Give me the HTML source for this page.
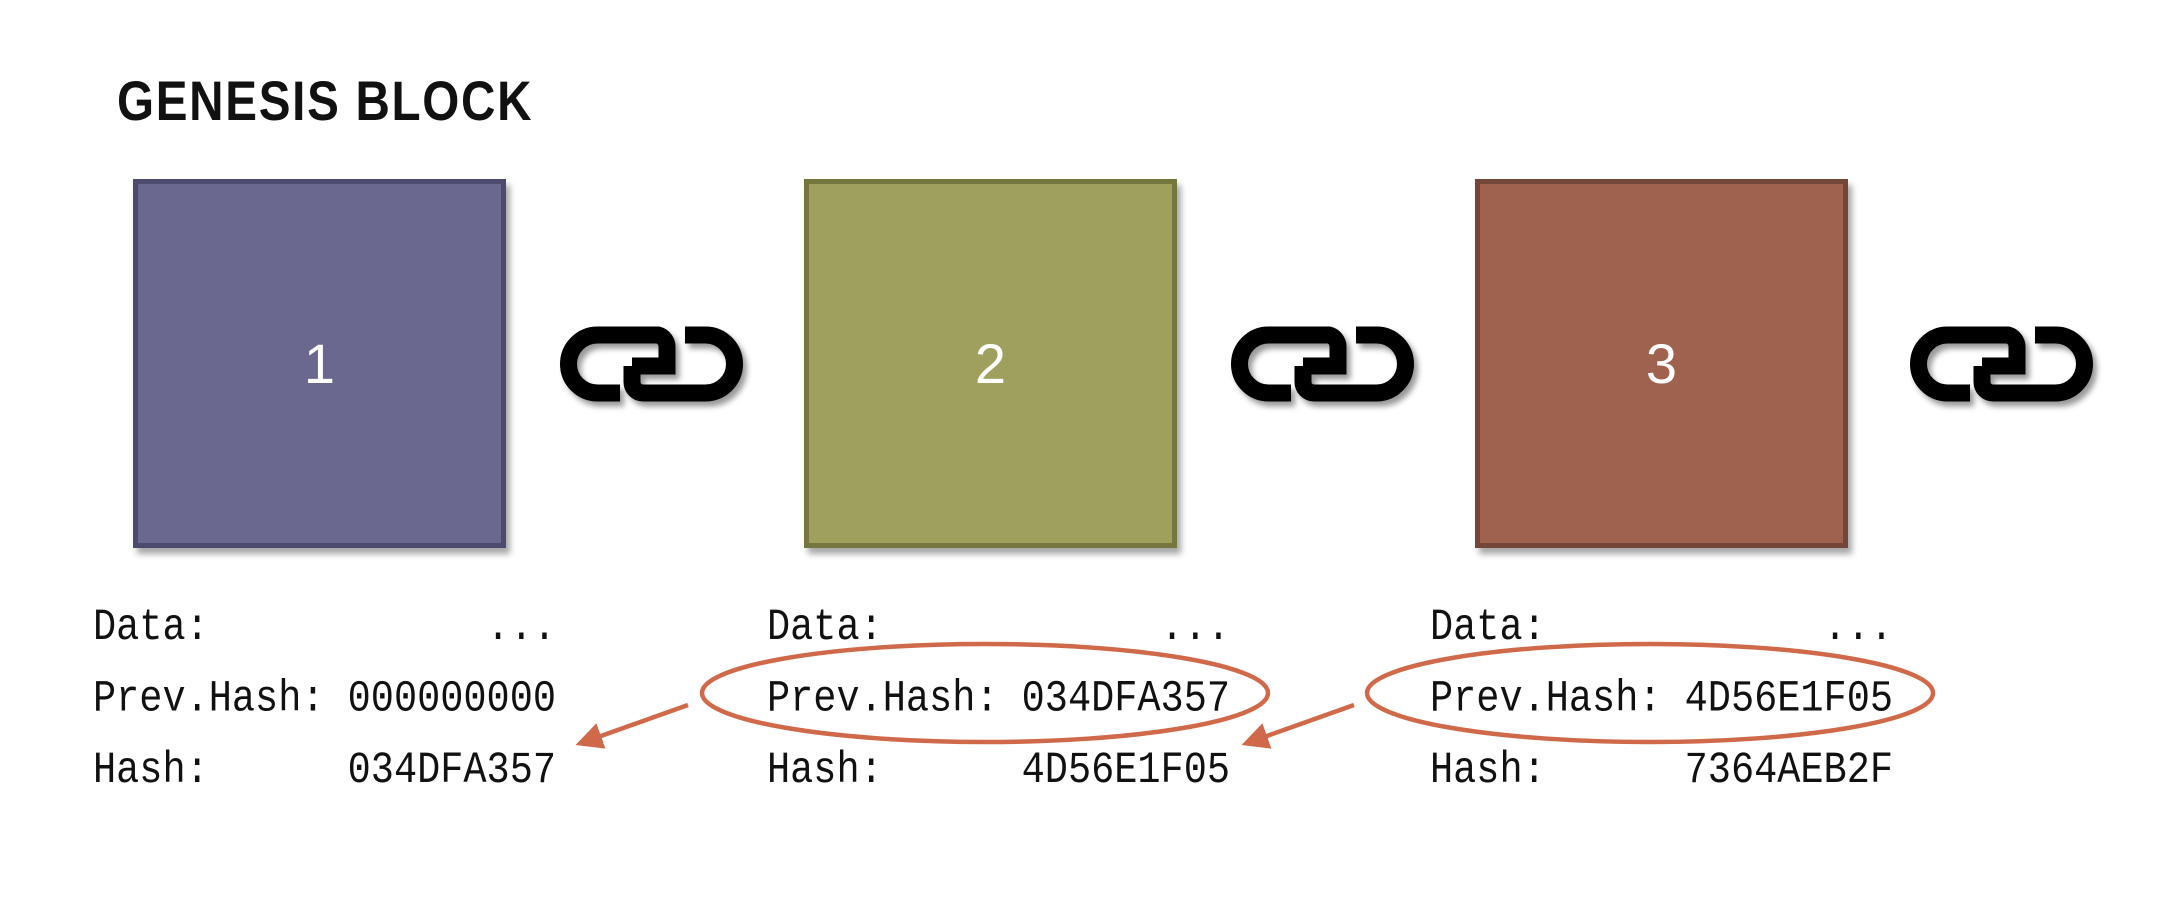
<!DOCTYPE html>
<html><head><meta charset="utf-8"><style>
html,body{margin:0;padding:0;background:#fff;}
body{width:2158px;height:910px;position:relative;overflow:hidden;font-family:"Liberation Sans",sans-serif;}
.title{position:absolute;left:117px;top:68px;font-size:56px;font-weight:bold;letter-spacing:2px;transform:scaleX(0.85);transform-origin:left top;color:#111;font-family:"Liberation Sans",sans-serif;}
.box{position:absolute;top:179px;width:363px;height:359px;border:5px solid;box-shadow:4px 6px 6px rgba(0,0,0,0.35);}
.box span{position:absolute;left:0;right:0;top:150px;text-align:center;color:#fff;font-size:56px;line-height:60px;}
.txt{position:absolute;font-family:"Liberation Mono",monospace;font-size:38.6px;white-space:pre;color:#111;line-height:62px;transform:scaleY(1.15);transform-origin:left top;}
.link{position:absolute;top:310px;width:230px;height:120px;filter:drop-shadow(4px 5px 3px rgba(0,0,0,0.4));}
svg.ov{position:absolute;left:0;top:0;}
</style></head><body>
<div class="title">GENESIS BLOCK</div>

<div class="box" style="left:133px;background:#6a688f;border-color:#4c4a6e"><span>1</span></div>
<div class="box" style="left:804px;background:#a0a05e;border-color:#75773f"><span>2</span></div>
<div class="box" style="left:1475px;background:#9e624e;border-color:#74463a"><span>3</span></div>

<svg class="link" style="left:540px" viewBox="0 0 230 120"><g fill="none" stroke="#000" stroke-width="17"><path d="M80,83 H57.5 A29,29 0 0 1 57.5,25 H118 A12,12 0 0 1 127,37 V56 H92"/><path d="M92,56 V72 A11,11 0 0 0 103,83 H165.5 A29,29 0 0 0 165.5,25 H145"/></g></svg>
<svg class="link" style="left:1211px" viewBox="0 0 230 120"><g fill="none" stroke="#000" stroke-width="17"><path d="M80,83 H57.5 A29,29 0 0 1 57.5,25 H118 A12,12 0 0 1 127,37 V56 H92"/><path d="M92,56 V72 A11,11 0 0 0 103,83 H165.5 A29,29 0 0 0 165.5,25 H145"/></g></svg>
<svg class="link" style="left:1890px" viewBox="0 0 230 120"><g fill="none" stroke="#000" stroke-width="17"><path d="M80,83 H57.5 A29,29 0 0 1 57.5,25 H118 A12,12 0 0 1 127,37 V56 H92"/><path d="M92,56 V72 A11,11 0 0 0 103,83 H165.5 A29,29 0 0 0 165.5,25 H145"/></g></svg>

<div class="txt" style="left:93px;top:592px">Data:            ...
Prev.Hash: 000000000
Hash:      034DFA357</div>
<div class="txt" style="left:767px;top:592px">Data:            ...
Prev.Hash: 034DFA357
Hash:      4D56E1F05</div>
<div class="txt" style="left:1430px;top:592px">Data:            ...
Prev.Hash: 4D56E1F05
Hash:      7364AEB2F</div>

<svg class="ov" width="2158" height="910">
<defs><marker id="ah" markerWidth="6" markerHeight="6" refX="4" refY="3" orient="auto" markerUnits="strokeWidth"><path d="M0,0 L6,3 L0,6 z" fill="#d0694a"/></marker></defs>
<g fill="none" stroke="#d0694a" stroke-width="4.5">
<ellipse cx="985" cy="693" rx="283" ry="49"/>
<ellipse cx="1650" cy="693" rx="283" ry="49"/>
<path d="M688,705 L584,742" marker-end="url(#ah)"/>
<path d="M1354,705 L1250,742" marker-end="url(#ah)"/>
</g></svg>
</body></html>
